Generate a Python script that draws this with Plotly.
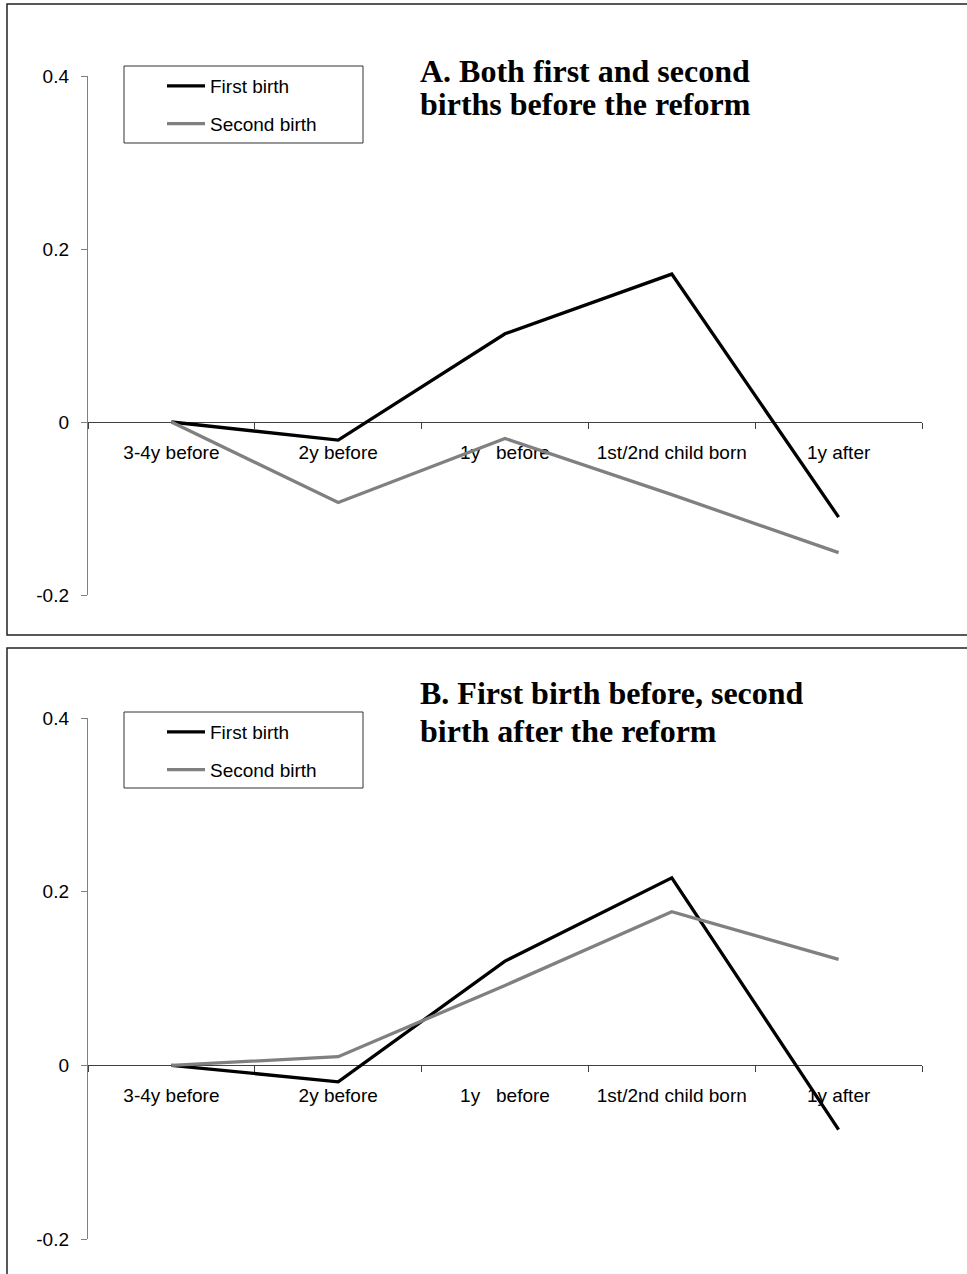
import plotly.graph_objects as go

# ---- data ----
categories = ["3-4y before", "2y before", "1y\u00a0\u00a0\u00a0before", "1st/2nd child born", "1y after"]
first_birth_a = [0.0, -0.021, 0.102, 0.171, -0.110]
second_birth_a = [0.0, -0.093, -0.019, -0.084, -0.151]
first_birth_b = [0.0, -0.019, 0.120, 0.216, -0.074]
second_birth_b = [0.0, 0.010, 0.092, 0.177, 0.122]
ytick_vals = [-0.2, 0.0, 0.2, 0.4]
ytick_text = ["-0.2", "0", "0.2", "0.4"]
title_a = ["A. Both first and second", "births before the reform"]
title_b = ["B. First birth before, second", "birth after the reform"]
series_names = ["First birth", "Second birth"]

W, H = 967, 1274
YMIN, YMAX = -0.2, 0.4


def fx(p):
    return p / W


def fy(p):
    return 1 - p / H


TICK_FONT = dict(family="Liberation Sans, Arial", size=19, color="black")
TITLE_FONT = dict(family="Liberation Serif, Times New Roman", size=32, color="black")

fig = go.Figure()

panels = [
    dict(x="x", y="y", legend="legend", data=(first_birth_a, second_birth_a)),
    dict(x="x2", y="y2", legend="legend2", data=(first_birth_b, second_birth_b)),
]
colors = ["black", "#808080"]
for pi, p in enumerate(panels):
    for si, vals in enumerate(p["data"]):
        fig.add_trace(go.Scatter(
            x=categories, y=vals, mode="lines", name=series_names[si],
            line=dict(color=colors[si], width=3.3),
            xaxis=p["x"], yaxis=p["y"], legend=p["legend"],
            legendgroup=f"g{pi}{si}", hoverinfo="skip",
        ))

# plot areas in pixels: (left, right, top, bottom)
areas = [(88, 922, 76, 595), (88, 922, 718, 1239)]


def zero_position(top, bottom):
    d0, d1 = fy(bottom), fy(top)
    return d0 + (0 - YMIN) / (YMAX - YMIN) * (d1 - d0)


layout = dict(
    width=W, height=H, margin=dict(l=0, r=0, t=0, b=0, pad=0, autoexpand=False),
    paper_bgcolor="white", plot_bgcolor="white",
    showlegend=True,
)
for i, (l, r, t, b) in enumerate(areas):
    sx = "" if i == 0 else str(i + 1)
    layout["xaxis" + sx] = dict(
        domain=[fx(l), fx(r)], range=[-0.5, 4.5], type="category",
        anchor="free", position=zero_position(t, b),
        showline=True, linecolor="#404040", linewidth=1,
        ticks="outside", tickson="boundaries", ticklen=6, tickcolor="#404040",
        showgrid=False, zeroline=False, tickfont=TICK_FONT,
        ticklabelstandoff=13, fixedrange=True, automargin=False,
        layer="below traces",
    )
    layout["yaxis" + sx] = dict(
        domain=[fy(b), fy(t)], range=[YMIN, YMAX], anchor="x" + sx,
        tickvals=ytick_vals, ticktext=ytick_text,
        showline=True, linecolor="#808080", linewidth=1.2,
        ticks="outside", ticklen=6, tickcolor="#808080",
        showgrid=False, zeroline=False, tickfont=TICK_FONT,
        ticklabelstandoff=8, fixedrange=True, automargin=False,
    )

legend_tops = [67, 713]
for i, top in enumerate(legend_tops):
    key = "legend" if i == 0 else f"legend{i + 1}"
    layout[key] = dict(
        x=fx(162), y=fy(top), xanchor="left", yanchor="top",
        bgcolor="rgba(0,0,0,0)", borderwidth=0,
        font=dict(family="Liberation Sans, Arial", size=19, color="black"),
        itemwidth=38, traceorder="grouped", tracegroupgap=10,
        itemclick=False, itemdoubleclick=False,
    )

shapes = []
# panel frames
for (y0, y1) in [(4, 635), (648, 1290)]:
    shapes.append(dict(type="rect", xref="paper", yref="paper",
                       x0=fx(7), x1=fx(990), y0=fy(y1), y1=fy(y0),
                       line=dict(color="#222222", width=1.5), fillcolor="rgba(0,0,0,0)", layer="below"))
# legend boxes
for (y0, y1) in [(66, 143), (712, 788)]:
    shapes.append(dict(type="rect", xref="paper", yref="paper",
                       x0=fx(124), x1=fx(363), y0=fy(y1), y1=fy(y0),
                       line=dict(color="#333333", width=1), fillcolor="white", layer="below"))
layout["shapes"] = shapes

annotations = []
for lines, centers in [(title_a, (70, 103)), (title_b, (692, 730))]:
    for txt, cy in zip(lines, centers):
        annotations.append(dict(
            text=f"<b>{txt}</b>", xref="paper", yref="paper",
            x=fx(418), y=fy(cy), xanchor="left", yanchor="middle",
            height=31, valign="middle",
            showarrow=False, font=TITLE_FONT, align="left",
        ))
layout["annotations"] = annotations

fig.update_layout(**layout)

fig.write_html(
    "out.html",
    config={"displayModeBar": False, "staticPlot": True},
    post_script="document.body.style.margin='0';document.body.style.overflow='hidden';",
)
